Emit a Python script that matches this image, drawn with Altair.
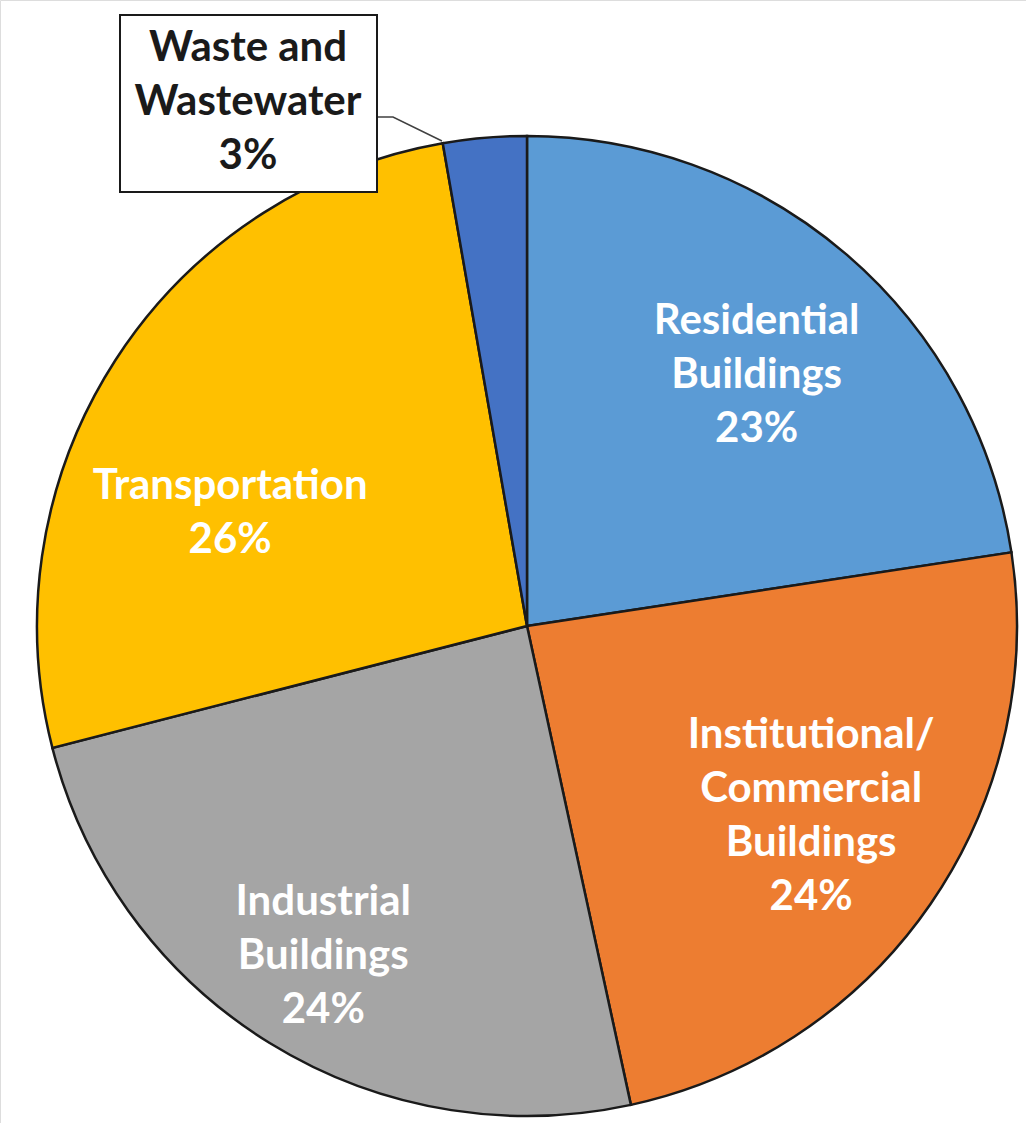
import altair as alt
import pandas as pd

# Data
keys = ["res", "inst", "ind", "trans", "waste"]
names = [
    "Residential\nBuildings",
    "Institutional/\nCommercial\nBuildings",
    "Industrial\nBuildings",
    "Transportation",
    "Waste and\nWastewater",
]
values = [22.6, 24.0, 24.4, 26.25, 2.75]
colors = ["#5B9BD5", "#ED7D31", "#A5A5A5", "#FFC000", "#4472C4"]

df = pd.DataFrame({
    "key": keys,
    "name": names,
    "value": values,
    "order": list(range(len(keys))),
})
df["label"] = [f"{n}\n{round(v)}%" for n, v in zip(names, values)]

W, H = 1026, 1123
CX, CY, R = 527, 626, 490
FONT = "Lato"
FS = 42
LH = 54

base = alt.Chart(df)

pie = base.mark_arc(outerRadius=R, stroke="#1a1a1a", strokeWidth=2.5).encode(
    theta=alt.Theta("value:Q", stack=True),
    color=alt.Color("key:N", scale=alt.Scale(domain=keys, range=colors), legend=None),
    order=alt.Order("order:Q"),
    x=alt.value(CX),
    y=alt.value(CY),
)

# label placement: (radius, dx, dy) per slice
label_pos = {
    "res": (340, 8, -47),
    "inst": (345, 0, -87),
    "ind": (388, 0, -54),
    "trans": (345, -7, 47),
}


def slice_label(key, r, dx, dy):
    return base.transform_calculate(
        t=f"datum.key === '{key}' ? datum.label : ''"
    ).mark_text(
        radius=r, dx=dx, dy=dy, font=FONT, fontWeight="bold", fontSize=FS,
        lineHeight=LH, lineBreak="\n", color="white", align="center",
        baseline="middle",
    ).encode(
        theta=alt.Theta("value:Q", stack=True),
        order=alt.Order("order:Q"),
        text="t:N",
        x=alt.value(CX),
        y=alt.value(CY),
    )


labels = [slice_label(k, *p) for k, p in label_pos.items()]

# callout for the small slice
box_df = pd.DataFrame({"a": [0]})
box = alt.Chart(box_df).mark_rect(fill="white", stroke="#1a1a1a", strokeWidth=2).encode(
    x=alt.value(120), x2=alt.value(377), y=alt.value(15), y2=alt.value(192)
)

leader_df = pd.DataFrame({"px": [377, 393, 442], "py": [117, 117, 141], "i": [0, 1, 2]})
leader = alt.Chart(leader_df).mark_line(color="#404040", strokeWidth=1.5).encode(
    x=alt.X("px:Q", scale=None),
    y=alt.Y("py:Q", scale=None),
    order="i:Q",
)

waste_text = base.transform_filter("datum.key === 'waste'").mark_text(
    font=FONT, fontWeight="bold", fontSize=FS, lineHeight=LH, lineBreak="\n",
    color="#1a1a1a", align="center", baseline="middle",
).encode(text="label:N", x=alt.value(248), y=alt.value(48))

chart = alt.layer(pie, *labels, leader, box, waste_text).properties(
    width=W, height=H, padding=0, autosize=alt.AutoSizeParams(type="none")
).configure_view(stroke=None).configure(background="white")

chart.save("out.html", embed_options={"renderer": "svg", "actions": False})
